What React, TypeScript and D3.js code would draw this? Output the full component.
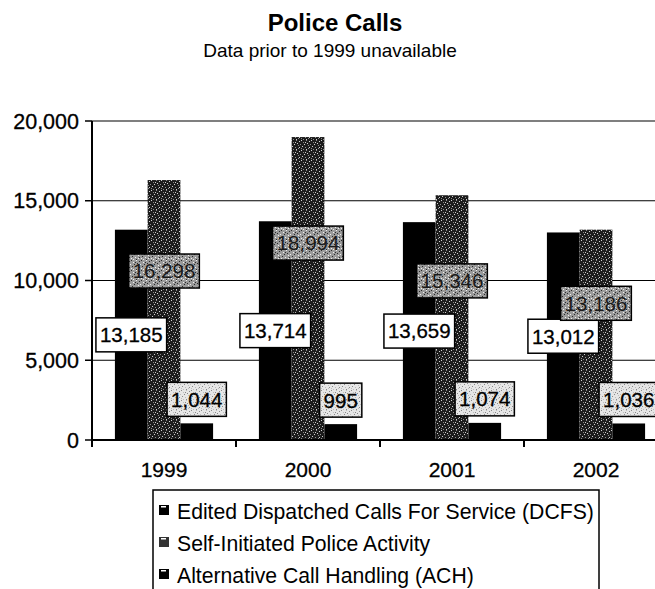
import { scaleBand, scaleLinear } from "d3";

const years = ["1999", "2000", "2001", "2002"];
const seriesNames = [
  "Edited Dispatched Calls For Service (DCFS)",
  "Self-Initiated Police Activity",
  "Alternative Call Handling (ACH)",
];
const dcfs = [13185, 13714, 13659, 13012];
const sipa = [16298, 18994, 15346, 13186];
const ach = [1044, 995, 1074, 1036];
const yTicks = [0, 5000, 10000, 15000, 20000];

const FONT = "'Liberation Sans', Arial, sans-serif";

// hand placed speck positions (10x10 tile) for the scanned "stipple" look
const specks = [
  [1, 0], [6, 0], [9, 1], [3, 2], [7, 3], [0, 4], [4, 4], [8, 5],
  [2, 6], [5, 7], [9, 7], [1, 8], [6, 9], [3, 9], [5, 2], [8, 8],
];

const fmt = (v: number) => v.toLocaleString("en-US");
// rough Arial width: digits .556em, comma .278em
const textW = (s: string, fs: number) =>
  s.split("").reduce((a, c) => a + (c === "," ? 0.278 : 0.556), 0) * fs;

const Stipple = ({ id, base, dot, dot2 }: { id: string; base: string; dot: string; dot2?: string }) => (
  <pattern id={id} width={10} height={10} patternUnits="userSpaceOnUse">
    <rect width={10} height={10} fill={base} />
    {specks.map(([sx, sy], i) => (
      <rect key={i} x={sx} y={sy} width={1} height={1} fill={dot2 && i % 2 ? dot2 : dot} />
    ))}
  </pattern>
);

export default function App() {
  const W = 655;
  const H = 589;
  const left = 92;
  const top = 121;
  const bottom = 440;

  const x = scaleBand<string>().domain(years).range([left, left + 144 * 4]);
  const inner = scaleBand<number>()
    .domain([0, 1, 2])
    .range([0, x.bandwidth()])
    .paddingOuter(0.7);
  const y = scaleLinear().domain([0, 20000]).range([bottom, top]);

  const series = [dcfs, sipa, ach];
  const fills = ["#000", "url(#sipaFill)", "#000"];
  const labelFs = 20.5;

  const labelY = (s: number, v: number) => {
    if (s === 0) return y(v / 2);
    if (s === 1) return y(v * 0.65);
    return y(v) - 24;
  };
  const labelFill = ["#fff", "url(#sipaLabel)", "url(#achLabel)"];

  return (
    <svg
      width={W}
      height={H}
      style={{ position: "absolute", left: 0, top: 0, background: "#fff" }}
      fontFamily={FONT}
    >
      <defs>
        <Stipple id="sipaFill" base="#1c1c1c" dot="#d0d0d0" dot2="#8c8c8c" />
        <Stipple id="sipaLabel" base="#9a9a9a" dot="#2a2a2a" dot2="#f0f0f0" />
        <Stipple id="achLabel" base="#e6e6e6" dot="#888" dot2="#bdbdbd" />
      </defs>

      <text x={335} y={31} textAnchor="middle" fontSize={24} fontWeight="bold">
        Police Calls
      </text>
      <text x={330} y={57} textAnchor="middle" fontSize={19}>
        Data prior to 1999 unavailable
      </text>

      {/* gridlines + y axis */}
      {yTicks.map((t) => (
        <g key={t}>
          {t > 0 && <line x1={left} x2={W} y1={y(t)} y2={y(t)} stroke="#000" strokeWidth={1.2} />}
          <line x1={left - 7} x2={left} y1={y(t)} y2={y(t)} stroke="#000" strokeWidth={1.5} />
          <text x={79} y={y(t)} dy="0.35em" textAnchor="end" fontSize={21.5} stroke="#000" strokeWidth={0.3}>
            {fmt(t)}
          </text>
        </g>
      ))}

      {/* bars */}
      {years.map((yr, i) => (
        <g key={yr}>
          {series.map((vals, s) => (
            <rect
              key={s}
              x={x(yr)! + inner(s)!}
              y={y(vals[i])}
              width={inner.bandwidth()}
              height={bottom - y(vals[i])}
              fill={fills[s]}
            />
          ))}
        </g>
      ))}

      {/* axes lines */}
      <line x1={left} x2={left} y1={top} y2={bottom + 7} stroke="#000" strokeWidth={2} />
      <line x1={left} x2={W} y1={bottom} y2={bottom} stroke="#000" strokeWidth={2} />
      {years.slice(1).map((yr) => (
        <line key={yr} x1={x(yr)!} x2={x(yr)!} y1={bottom} y2={bottom + 7} stroke="#000" strokeWidth={2} />
      ))}
      {years.map((yr) => (
        <text
          key={yr}
          x={x(yr)! + x.bandwidth() / 2}
          y={477}
          textAnchor="middle"
          fontSize={21}
          stroke="#000"
          strokeWidth={0.3}
        >
          {yr}
        </text>
      ))}

      {/* data labels */}
      {years.map((yr, i) => (
        <g key={yr}>
          {series.map((vals, s) => {
            const label = fmt(vals[i]);
            const w = textW(label, labelFs) + 8;
            const h = 34;
            const cx = x(yr)! + inner(s)! + inner.bandwidth() / 2;
            const cy = labelY(s, vals[i]);
            return (
              <g key={s}>
                <rect
                  x={cx - w / 2}
                  y={cy - h / 2}
                  width={w}
                  height={h}
                  fill={labelFill[s]}
                  stroke="#000"
                  strokeWidth={1.5}
                />
                <text
                  x={cx}
                  y={cy}
                  dy="0.36em"
                  textAnchor="middle"
                  fontSize={labelFs}
                  fill={s === 1 ? "#1a1a1a" : "#000"}
                  stroke={s === 1 ? "none" : "#000"}
                  strokeWidth={0.3}
                >
                  {label}
                </text>
              </g>
            );
          })}
        </g>
      ))}

      {/* legend */}
      <rect x={153} y={490} width={446} height={130} fill="#fff" stroke="#000" strokeWidth={1.5} />
      {seriesNames.map((name, s) => {
        const cy = 511 + s * 32;
        return (
          <g key={name}>
            <rect x={159} y={cy - 6} width={10} height={10} fill={s === 1 ? "#333" : "#000"} />
            <rect x={161} y={cy - 5} width={5} height={1.5} fill="#fff" />
            <text x={177} y={cy} dy="0.36em" fontSize={21.2}>
              {name}
            </text>
          </g>
        );
      })}
    </svg>
  );
}
